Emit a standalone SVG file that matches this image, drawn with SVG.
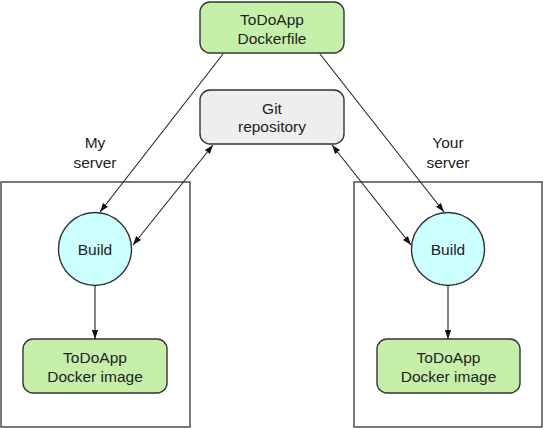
<svg xmlns="http://www.w3.org/2000/svg" width="543" height="428" viewBox="0 0 543 428">
<style>
text{font-family:"Liberation Sans",Arial,sans-serif;font-size:15.5px;fill:#222;text-anchor:middle}
.box{stroke:#333;stroke-width:1.4}
.green{fill:#c6f0aa}
.gray{fill:#eeeeee}
.cyan{fill:#ccffff}
.frame{fill:none;stroke:#333;stroke-width:1.3}
.conn line{stroke:#222;stroke-width:1.1;fill:none}
</style>
<defs>
<marker id="ah" viewBox="0 0 10 10" refX="10" refY="5" markerWidth="9" markerHeight="9" markerUnits="userSpaceOnUse" orient="auto-start-reverse">
<path d="M0,1.5 L10,5 L0,8.5 Z" fill="#111"/>
</marker>
</defs>
<g id="my-server">
<rect class="frame" x="1" y="182" width="189" height="245"/>
<text x="95" y="148">My</text>
<text x="95" y="168">server</text>
</g>
<g id="your-server">
<rect class="frame" x="354" y="182" width="188" height="245"/>
<text x="448" y="148">Your</text>
<text x="448" y="168">server</text>
</g>
<g id="dockerfile">
<rect class="box green" x="200" y="2" width="144" height="51" rx="10"/>
<text x="272" y="25">ToDoApp</text>
<text x="272" y="43.5">Dockerfile</text>
</g>
<g id="git">
<rect class="box gray" x="200" y="90" width="144" height="54" rx="10"/>
<text x="272" y="113.5">Git</text>
<text x="272" y="132">repository</text>
</g>
<g id="build-left">
<circle class="box cyan" cx="95" cy="249" r="36.5"/>
<text x="95" y="254.5">Build</text>
</g>
<g id="build-right">
<circle class="box cyan" cx="448" cy="249" r="36.5"/>
<text x="448" y="254.5">Build</text>
</g>
<g id="image-left">
<rect class="box green" x="23" y="339" width="144" height="54" rx="10"/>
<text x="95" y="362.5">ToDoApp</text>
<text x="95" y="381.5">Docker image</text>
</g>
<g id="image-right">
<rect class="box green" x="377" y="339" width="143" height="54" rx="10"/>
<text x="448.5" y="362.5">ToDoApp</text>
<text x="448.5" y="381.5">Docker image</text>
</g>
<g id="connectors" class="conn">
<line x1="223" y1="54" x2="100" y2="212" marker-end="url(#ah)"/>
<line x1="320" y1="54" x2="444" y2="212" marker-end="url(#ah)"/>
<line x1="213" y1="145" x2="133" y2="245" marker-start="url(#ah)" marker-end="url(#ah)"/>
<line x1="332" y1="145" x2="411" y2="245" marker-start="url(#ah)" marker-end="url(#ah)"/>
<line x1="95" y1="285.5" x2="95" y2="339" marker-end="url(#ah)"/>
<line x1="448" y1="285.5" x2="448" y2="339" marker-end="url(#ah)"/>
</g>
</svg>
